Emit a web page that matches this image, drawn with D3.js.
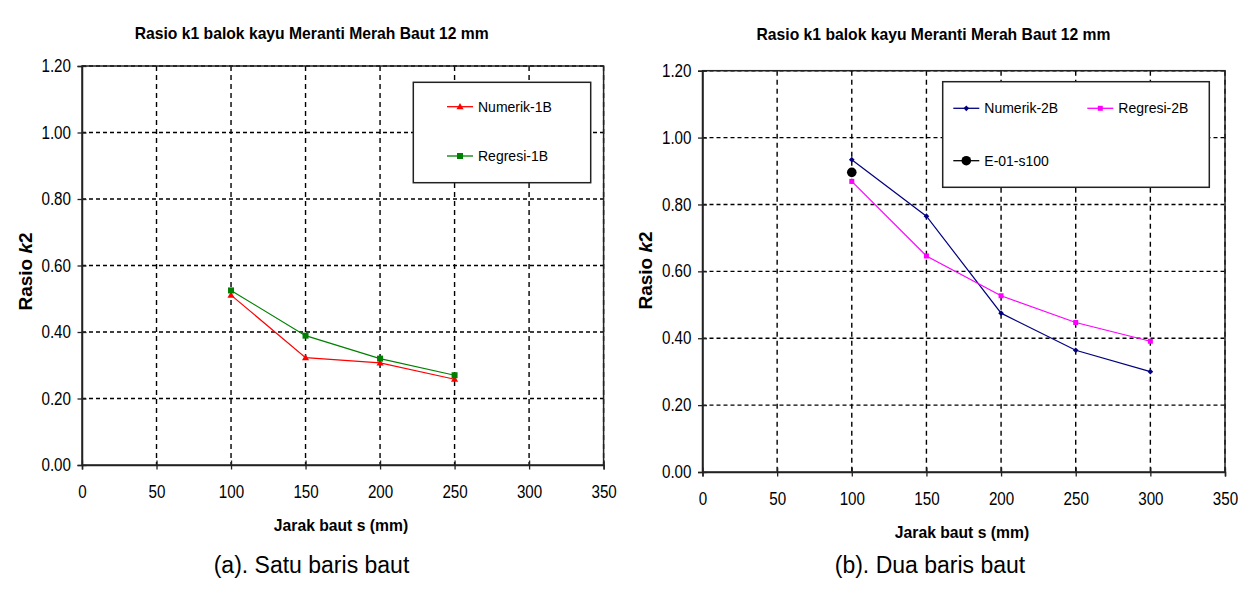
<!DOCTYPE html>
<html>
<head>
<meta charset="utf-8">
<script src="https://cdn.jsdelivr.net/npm/d3@7"></script>
<style>
  body { margin: 0; background: #ffffff; }
  text { font-family: "Liberation Sans", Arial, sans-serif; fill: #000; }
</style>
</head>
<body>
<script>
// Chart data.
const xTicks = [0, 50, 100, 150, 200, 250, 300, 350];
const yTicks = [0, 0.2, 0.4, 0.6, 0.8, 1.0, 1.2];

// (a) one row of bolts
const spacing1 = [100, 150, 200, 250];
const numerik1B = [0.511, 0.323, 0.307, 0.258];
const regresi1B = [0.525, 0.389, 0.320, 0.270];

// (b) two rows of bolts
const spacing2 = [100, 150, 200, 250, 300];
const numerik2B = [0.934, 0.765, 0.475, 0.364, 0.300];
const regresi2B = [0.869, 0.646, 0.527, 0.447, 0.391];
const expSpacing = [100];
const expE01 = [0.896];

const chartTitle = 'Rasio k1 balok kayu Meranti Merah Baut 12 mm';
const xTitle = 'Jarak baut s (mm)';

const svg = d3.select('body')
      .append('svg')
      .attr('width', 1243)
      .attr('height', 590);

// Marker shapes, like the Excel ones.
function marker(g, type, cx, cy, color)
{
  if (type == 'triangle')
  {
    g.append('path')
      .attr('d', d3.symbol().type(d3.symbolTriangle).size(22)())
      .attr('transform', 'translate(' + cx + ',' + (cy + 0.5) + ')')
      .attr('fill', color);
  }
  else if (type == 'square')
  {
    g.append('rect')
      .attr('x', cx - 3).attr('y', cy - 3)
      .attr('width', 6).attr('height', 6)
      .attr('fill', color);
  }
  else if (type == 'smallsquare')
  {
    g.append('rect')
      .attr('x', cx - 2.5).attr('y', cy - 2.5)
      .attr('width', 5).attr('height', 5)
      .attr('fill', color);
  }
  else if (type == 'diamond')
  {
    g.append('rect')
      .attr('x', -2).attr('y', -2)
      .attr('width', 4).attr('height', 4)
      .attr('transform', 'translate(' + cx + ',' + cy + ') rotate(45)')
      .attr('fill', color);
  }
  else if (type == 'circle')
  {
    g.append('circle')
      .attr('cx', cx).attr('cy', cy)
      .attr('r', 4.8)
      .attr('fill', color);
  }
}

function drawPanel(p)
{
  const x = d3.scaleLinear().domain([0, 350]).range([p.left, p.right]);
  const y = d3.scaleLinear().domain([0, 1.2]).range([p.bottom, p.top]);
  const g = svg.append('g');

  // Dashed grid.
  g.selectAll('line.hgrid')
    .data(yTicks.filter((d) => d > 0))
    .enter()
    .append('line')
    .attr('class', 'hgrid')
    .attr('x1', p.left).attr('x2', p.right)
    .attr('y1', (d) => y(d)).attr('y2', (d) => y(d))
    .attr('stroke', '#000')
    .attr('stroke-width', 1.4)
    .attr('stroke-dasharray', '4,3');

  g.selectAll('line.vgrid')
    .data(xTicks.filter((d) => d > 0))
    .enter()
    .append('line')
    .attr('class', 'vgrid')
    .attr('x1', (d) => x(d)).attr('x2', (d) => x(d))
    .attr('y1', p.top).attr('y2', p.bottom)
    .attr('stroke', '#000')
    .attr('stroke-width', 1.4)
    .attr('stroke-dasharray', '5,4');

  // Plot border.
  g.append('rect')
    .attr('x', p.left).attr('y', p.top)
    .attr('width', p.right - p.left).attr('height', p.bottom - p.top)
    .attr('fill', 'none')
    .attr('stroke', '#222')
    .attr('stroke-width', 1.5);

  // Axes with cross ticks.
  const yAxis = d3.axisLeft(y)
        .tickValues(yTicks)
        .tickFormat(d3.format('.2f'))
        .tickSize(4.5)
        .tickPadding(6.5);
  const yg = g.append('g')
        .attr('transform', 'translate(' + p.left + ',0)')
        .call(yAxis);

  const xAxis = d3.axisBottom(x)
        .tickValues(xTicks)
        .tickFormat(d3.format('d'))
        .tickSize(4.5)
        .tickPadding(13.5);
  const xg = g.append('g')
        .attr('transform', 'translate(0,' + p.bottom + ')')
        .call(xAxis);

  // Excel digits here are a bit tall, so stretch the labels vertically.
  [yg, xg].forEach((a) =>
                   {
                     a.select('.domain').attr('stroke', '#222').attr('stroke-width', 1.5);
                     a.selectAll('.tick line').attr('stroke', '#222').attr('stroke-width', 1.3);
                     a.selectAll('.tick text')
                       .attr('transform', 'scale(1,1.15)')
                       .style('font-family', '"Liberation Sans", Arial, sans-serif')
                       .style('font-size', '15.2px');
                   });
  yg.selectAll('.tick line').attr('x1', 4.5);
  xg.selectAll('.tick line').attr('y1', -4.5);

  // Series.
  const line = d3.line()
        .x((d) => x(d[0]))
        .y((d) => y(d[1]));

  p.series.forEach((s) =>
                   {
                     const pts = s.xs.map((v, i) => [v, s.ys[i]]);
                     if (pts.length > 1)
                     {
                       g.append('path')
                         .datum(pts)
                         .attr('d', line)
                         .attr('fill', 'none')
                         .attr('stroke', s.color)
                         .attr('stroke-width', 1.2);
                     }
                     pts.forEach((d) => marker(g, s.marker, x(d[0]), y(d[1]), s.color));
                   });

  // Titles.
  g.append('text')
    .attr('x', p.titleX).attr('y', p.titleY)
    .attr('text-anchor', 'middle')
    .style('font-weight', 'bold')
    .style('font-size', '15.7px')
    .text(chartTitle);

  g.append('text')
    .attr('x', p.xTitleX).attr('y', p.xTitleY)
    .attr('text-anchor', 'middle')
    .attr('dominant-baseline', 'central')
    .style('font-weight', 'bold')
    .style('font-size', '15.7px')
    .text(xTitle);

  const yt = g.append('text')
        .attr('transform', 'translate(' + p.yTitleX + ',' + p.yTitleY + ') rotate(-90)')
        .attr('text-anchor', 'middle')
        .attr('dominant-baseline', 'central')
        .style('font-weight', 'bold')
        .style('font-size', '19px');
  yt.append('tspan').text('Rasio ');
  yt.append('tspan').style('font-style', 'italic').text('k');
  yt.append('tspan').text('2');

  g.append('text')
    .attr('x', p.captionX).attr('y', p.captionY)
    .attr('text-anchor', 'middle')
    .attr('dominant-baseline', 'central')
    .style('font-size', '23px')
    .text(p.caption);

  // Legend.
  const lb = p.legend.box;
  g.append('rect')
    .attr('x', lb[0]).attr('y', lb[1])
    .attr('width', lb[2]).attr('height', lb[3])
    .attr('fill', '#fff')
    .attr('stroke', '#222')
    .attr('stroke-width', 1.5);

  p.legend.items.forEach((it, i) =>
                         {
                           const s = p.series[i];
                           g.append('line')
                             .attr('x1', it[0]).attr('x2', it[0] + 26)
                             .attr('y1', it[1]).attr('y2', it[1])
                             .attr('stroke', s.color)
                             .attr('stroke-width', 1.3);
                           marker(g, s.marker, it[0] + 13, it[1], s.color);
                           g.append('text')
                             .attr('x', it[0] + 31).attr('y', it[1])
                             .attr('dominant-baseline', 'central')
                             .style('font-size', '14px')
                             .text(s.name);
                         });
}

drawPanel({
  left: 82, right: 603.6, top: 66, bottom: 465,
  titleX: 311.7, titleY: 38.5,
  xTitleX: 341, xTitleY: 525,
  yTitleX: 25, yTitleY: 271.5,
  captionX: 311.5, captionY: 565,
  caption: '(a). Satu baris baut',
  series: [
    {name: 'Numerik-1B', xs: spacing1, ys: numerik1B, color: '#ff0000', marker: 'triangle'},
    {name: 'Regresi-1B', xs: spacing1, ys: regresi1B, color: '#008000', marker: 'square'}
  ],
  legend: {box: [413.3, 82.3, 177.4, 100.4], items: [[447, 106.7], [447, 156]]}
});

drawPanel({
  left: 702.5, right: 1225, top: 70.7, bottom: 472,
  titleX: 933.5, titleY: 40.3,
  xTitleX: 962, xTitleY: 532.7,
  yTitleX: 645, yTitleY: 270.5,
  captionX: 930, captionY: 565,
  caption: '(b). Dua baris baut',
  series: [
    {name: 'Numerik-2B', xs: spacing2, ys: numerik2B, color: '#000080', marker: 'diamond'},
    {name: 'Regresi-2B', xs: spacing2, ys: regresi2B, color: '#ff00ff', marker: 'smallsquare'},
    {name: 'E-01-s100', xs: expSpacing, ys: expE01, color: '#000000', marker: 'circle'}
  ],
  legend: {box: [942.7, 81.7, 266.6, 105.6], items: [[953.3, 108.3], [1087.3, 108.3], [953.3, 160.7]]}
});
</script>
</body>
</html>
